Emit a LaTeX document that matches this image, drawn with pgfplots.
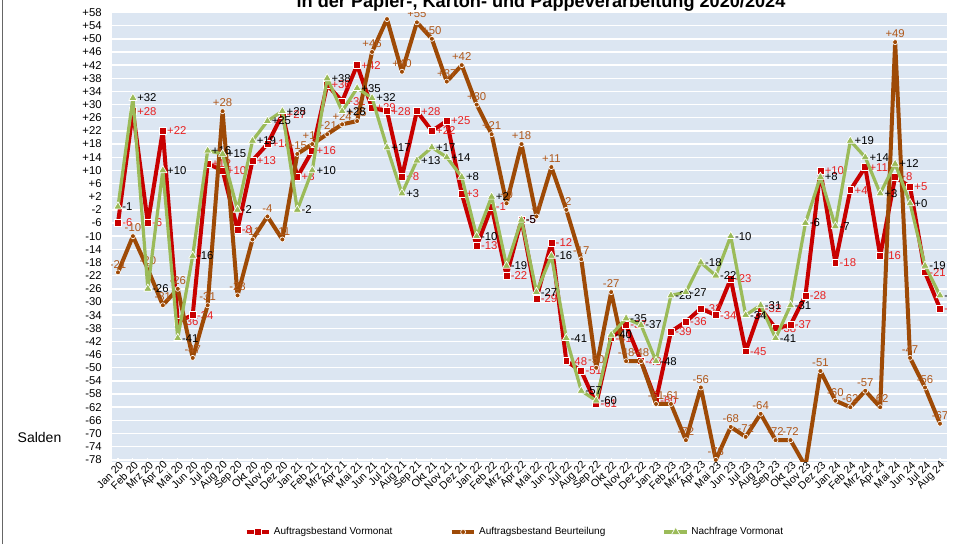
\documentclass[border=0pt]{standalone}
\usepackage{fontspec}
\setmainfont{Liberation Sans}
\usepackage{pgfplots}
\pgfplotsset{compat=1.18}
\usepackage{pgfplotstable}
\usetikzlibrary{calc}
\definecolor{cred}{RGB}{200,0,0}
\definecolor{cbrown}{RGB}{158,74,6}
\definecolor{cgreen}{RGB}{155,187,89}
\definecolor{lred}{RGB}{232,32,32}
\definecolor{lbrown}{RGB}{176,88,26}
\definecolor{bgblue}{RGB}{220,230,242}

\pgfplotstableread{
x r rl b bl g gl
0 -6 -6 -21 -21 -1 -1
1 28 +28 -10 -10 32 +32
2 -6 -6 -20 -20 -26 -26
3 22 +22 -31 -31 10 +10
4 -36 -36 -26 -26 -41 -41
5 -34 -34 -47 -47 -16 -16
6 12 +12 -31 -31 16 +16
7 10 +10 28 +28 15 +15
8 -8 -8 -28 -28 -2 -2
9 13 +13 -11 -11 19 +19
10 18 +18 -4 -4 25 +25
11 27 +27 -11 -11 28 +28
12 8 +8 15 +15 -2 -2
13 16 +16 18 +18 10 +10
14 36 +36 21 +21 38 +38
15 31 +31 24 +24 28 +28
16 42 +42 25 +25 35 +35
17 29 +29 46 +46 32 +32
18 28 +28 56 {} 17 +17
19 8 +8 40 +40 3 +3
20 28 +28 55 +55 13 +13
21 22 +22 50 +50 17 +17
22 25 +25 37 +37 14 +14
23 3 +3 42 +42 8 +8
24 -13 -13 30 +30 -10 -10
25 -1 -1 21 +21 2 +2
26 -22 -22 0 +0 -19 -19
27 -5 -5 18 +18 -5 -5
28 -29 -29 -4 -4 -27 -27
29 -12 -12 11 +11 -16 -16
30 -48 -48 -2 -2 -41 -41
31 -51 -51 -17 -17 -57 -57
32 -61 -61 -50 -50 -60 -60
33 -41 -41 -27 -27 -40 -40
34 -37 -37 -48 -48 -35 -35
35 -48 -48 -48 -48 -37 -37
36 -60 -60 -61 -61 -48 -48
37 -39 -39 -61 -61 -28 -28
38 -36 -36 -72 -72 -27 -27
39 -32 -32 -56 -56 -18 -18
40 -34 -34 -78 -78 -22 -22
41 -23 -23 -68 -68 -10 -10
42 -45 -45 -71 -71 -34 -34
43 -32 -32 -64 -64 -31 -31
44 -38 -38 -72 -72 -41 -41
45 -37 -37 -72 -72 -31 -31
46 -28 -28 -80 {} -6 -6
47 10 +10 -51 -51 8 +8
48 -18 -18 -60 -60 -7 -7
49 4 +4 -62 -62 19 +19
50 11 +11 -57 -57 14 +14
51 -16 -16 -62 -62 3 +3
52 8 +8 49 +49 12 +12
53 5 +5 -47 -47 0 +0
54 -21 -21 -56 -56 -19 -19
55 -32 -32 -67 -67 -28 -28
}\data

\begin{document}
\begin{tikzpicture}[x=0.75pt,y=0.75pt]
\begin{axis}[
  scale only axis, width=626.25pt, height=336.75pt,
  xmin=-0.42, xmax=55.45, ymin=-78.5, ymax=58,
  axis line style={draw=none},
  axis background/.style={fill=bgblue},
  ymajorgrids, grid style={white, line width=1.1pt},
  ytick={-78,-74,...,58},
  yticklabel={\pgfmathprintnumber[showpos,assume math mode=true]{\tick}},
  yticklabel style={font=\fontsize{8.5}{10}\selectfont, xshift=-4pt},
  ytick style={draw=none},
  xtick={0,...,55},
  xticklabels={Jan 20,Feb 20,Mrz 20,Apr 20,Mai 20,Jun 20,Jul 20,Aug 20,Sep 20,Okt 20,Nov 20,Dez 20,
    Jan 21,Feb 21,Mrz 21,Apr 21,Mai 21,Jun 21,Jul 21,Aug 21,Sep 21,Okt 21,Nov 21,Dez 21,
    Jan 22,Feb 22,Mrz 22,Apr 22,Mai 22,Jun 22,Jul 22,Aug 22,Sep 22,Okt 22,Nov 22,Dez 22,
    Jan 23,Feb 23,Mrz 23,Apr 23,Mai 23,Jun 23,Jul 23,Aug 23,Sep 23,Okt 23,Nov 23,Dez 23,
    Jan 24,Feb 24,Mrz 24,Apr 24,Mai 24,Jun 24,Jul 24,Aug 24},
  xticklabel style={rotate=45, anchor=east, font=\fontsize{8}{9}\selectfont, xshift=4pt, yshift=-3pt},
  x tick style={white, line width=0.8pt},
  xtick pos=bottom, tick align=inside, major tick length=3pt,
  clip marker paths=true,
  legend columns=3,
  legend style={at={(0.154,-0.157)}, anchor=west, draw=none, fill=none,
    font=\fontsize{7.5}{9}\selectfont,
    /tikz/every even column/.append style={column sep=41pt}},
  every node near coord/.append style={font=\fontsize{8.5}{10}\selectfont, inner sep=1pt},
]
\coordinate (O) at (rel axis cs:0,0);
\addplot[cred, line width=3pt, line join=round, mark=square*, mark size=2.6pt,
  mark options={fill=cred, draw=white, line width=0.5pt},
  point meta=explicit symbolic, nodes near coords,
  nodes near coords style={anchor=west, text=lred, xshift=2pt}]
  table[x=x, y=r, meta=rl] {\data};
\addlegendentry{Auftragsbestand Vormonat}
\addplot[cbrown, line width=3pt, line join=round, mark=*, mark size=1.9pt,
  mark options={fill=cbrown, draw=white, line width=0.5pt},
  point meta=explicit symbolic, nodes near coords,
  nodes near coords style={anchor=south, text=lbrown, yshift=2pt}]
  table[x=x, y=b, meta=bl] {\data};
\addlegendentry{Auftragsbestand Beurteilung}
\addplot[cgreen, line width=2.4pt, line join=round, mark=triangle*, mark size=3.6pt,
  mark options={fill=cgreen, draw=white, line width=0.5pt},
  point meta=explicit symbolic, nodes near coords,
  nodes near coords style={anchor=west, text=black, xshift=2pt}]
  table[x=x, y=g, meta=gl] {\data};
\addlegendentry{Nachfrage Vormonat}
\end{axis}
\draw[black!60, line width=0.75pt] ($(O)+(-108.7,-82.5)$) -- ($(O)+(-108.7,461.5)$);
\node[anchor=west, font=\fontsize{10.5}{12}\selectfont] at ($(O)+(-98.7,24.5)$) {Salden};
\node[anchor=base, font=\bfseries\fontsize{13.6}{16}\selectfont] at ($(O)+(429.3,453.5)$) {in der Papier-, Karton- und Pappeverarbeitung 2020/2024};
\pgfresetboundingbox
\path[use as bounding box] ($(O)+(-111.7,-82.5)$) rectangle ($(O)+(856.3,461.5)$);
\end{tikzpicture}
\end{document}
